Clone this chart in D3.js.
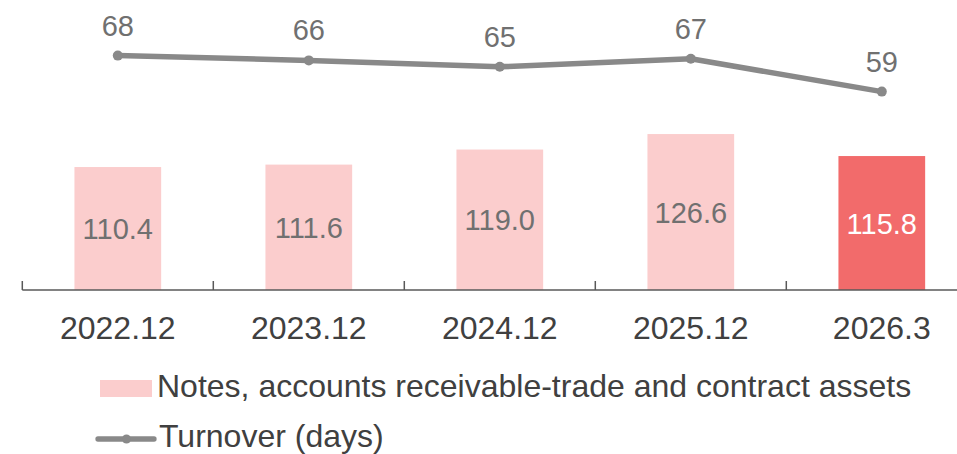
<!DOCTYPE html>
<html>
<head>
<meta charset="utf-8">
<script src="https://cdn.jsdelivr.net/npm/d3@7/dist/d3.min.js"></script>
<style>
  html, body { margin: 0; padding: 0; background: #fff; }
  svg { display: block; font-family: "Liberation Sans", Arial, sans-serif; }
</style>
</head>
<body>
<svg id="chart" width="957" height="454"></svg>
<script>
const categories = ["2022.12", "2023.12", "2024.12", "2025.12", "2026.3"];
const receivables = [110.4, 111.6, 119.0, 126.6, 115.8];
const turnoverDays = [67.6, 66.4, 64.8, 66.8, 58.6];
const barLabels = ["110.4", "111.6", "119.0", "126.6", "115.8"];
const lineLabels = ["68", "66", "65", "67", "59"];
const legendLabels = ["Notes, accounts receivable-trade and contract assets", "Turnover (days)"];

const svg = d3.select("#chart");
const axisY = 290;

const x = d3.scaleBand()
  .domain(categories)
  .range([22.3, 977.3])
  .paddingInner(0.546)
  .paddingOuter(0.273);

const yBar = d3.scaleLinear().domain([50, 190]).range([axisY, 5]);
const yLine = d3.scaleLinear().domain([0, 80]).range([326, 6]);

const barColor = (i) => i === categories.length - 1 ? "#F26B6B" : "#FBCDCD";

// bars
svg.append("g").selectAll("rect")
  .data(receivables)
  .join("rect")
  .attr("x", (d, i) => x(categories[i]))
  .attr("y", d => yBar(d))
  .attr("width", x.bandwidth())
  .attr("height", d => axisY - yBar(d))
  .attr("fill", (d, i) => barColor(i));

// bar labels
svg.append("g").selectAll("text")
  .data(receivables)
  .join("text")
  .attr("x", (d, i) => x(categories[i]) + x.bandwidth() / 2)
  .attr("y", d => (yBar(d) + axisY) / 2 + 10.5)
  .attr("text-anchor", "middle")
  .attr("font-size", 29)
  .attr("fill", (d, i) => i === categories.length - 1 ? "#FFFFFF" : "#707070")
  .text((d, i) => barLabels[i]);

// axis
const axisG = svg.append("g");
const xAxis = d3.axisBottom(x).tickSize(0).tickPadding(0);
axisG.attr("transform", `translate(0,${axisY})`).call(xAxis);
axisG.select(".domain").remove();
axisG.selectAll(".tick text")
  .attr("font-size", 32)
  .attr("font-family", "Liberation Sans, Arial, sans-serif")
  .attr("fill", "#404040")
  .attr("dy", null)
  .attr("y", 49);

const [r0, r1] = x.range();
svg.append("line")
  .attr("x1", r0).attr("x2", r1)
  .attr("y1", axisY).attr("y2", axisY)
  .attr("stroke", "#595959").attr("stroke-width", 1.5);

const boundaries = categories.map(c => x(c) - x.step() * x.paddingOuter()).concat([r1]);
svg.append("g").selectAll("line")
  .data(boundaries)
  .join("line")
  .attr("x1", d => d).attr("x2", d => d)
  .attr("y1", axisY).attr("y2", axisY - 9)
  .attr("stroke", "#595959").attr("stroke-width", 1.5);

// line
const lineColor = "#898989";
const cx = (i) => x(categories[i]) + x.bandwidth() / 2;
const lineGen = d3.line()
  .x((d, i) => cx(i))
  .y(d => yLine(d));

svg.append("path")
  .datum(turnoverDays)
  .attr("d", lineGen)
  .attr("fill", "none")
  .attr("stroke", lineColor)
  .attr("stroke-width", 5.5)
  .attr("stroke-linejoin", "round");

svg.append("g").selectAll("circle")
  .data(turnoverDays)
  .join("circle")
  .attr("cx", (d, i) => cx(i))
  .attr("cy", d => yLine(d))
  .attr("r", 5)
  .attr("fill", lineColor);

svg.append("g").selectAll("text")
  .data(turnoverDays)
  .join("text")
  .attr("x", (d, i) => cx(i))
  .attr("y", d => yLine(d) - 20)
  .attr("text-anchor", "middle")
  .attr("font-size", 29)
  .attr("fill", "#707070")
  .text((d, i) => lineLabels[i]);

// legend
const lg = svg.append("g");
lg.append("rect")
  .attr("x", 100).attr("y", 380)
  .attr("width", 52).attr("height", 17)
  .attr("fill", "#FBCDCD");
lg.append("text")
  .attr("x", 157).attr("y", 396.5)
  .attr("font-size", 32)
  .attr("fill", "#404040")
  .text(legendLabels[0]);

lg.append("line")
  .attr("x1", 98).attr("x2", 154)
  .attr("y1", 439).attr("y2", 439)
  .attr("stroke", lineColor).attr("stroke-width", 5.3)
  .attr("stroke-linecap", "round");
lg.append("circle")
  .attr("cx", 126.5).attr("cy", 439).attr("r", 4.5)
  .attr("fill", lineColor);
lg.append("text")
  .attr("x", 159).attr("y", 446.5)
  .attr("font-size", 32)
  .attr("fill", "#404040")
  .text(legendLabels[1]);
</script>
</body>
</html>
